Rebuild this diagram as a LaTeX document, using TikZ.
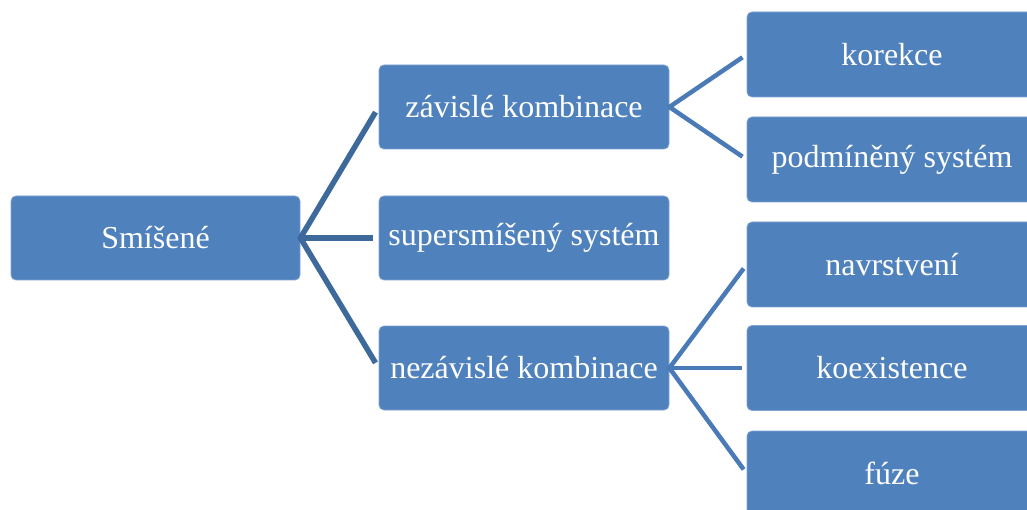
\documentclass[tikz,border=0pt]{standalone}
\usepackage{fontspec}
\setmainfont{Liberation Serif}
\definecolor{boxfill}{HTML}{4F81BD}
\definecolor{boxedge}{HTML}{7FA1CF}
\definecolor{lineA}{HTML}{3E6A9B}
\definecolor{lineB}{HTML}{4A7BB7}
\begin{document}
\begin{tikzpicture}[x=1pt,y=-1pt,
  box/.style={rectangle, rounded corners=5pt, fill=boxfill, draw=boxedge, line width=0.8pt,
    minimum width=290pt, minimum height=85pt, inner sep=0pt, text=white,
    font=\fontsize{32}{38}\selectfont},
  linkA/.style={draw=lineA, line width=5.5pt, shorten >=6pt, shorten <=-1pt},
  linkB/.style={draw=lineB, line width=4.5pt, shorten >=5pt, shorten <=-1pt}]
\useasboundingbox (0,0) rectangle (1027,510);
\clip (0,0) rectangle (1027,510);
\node[box, minimum width=289pt, minimum height=84pt] (s) at (155.5,238) {Smíšené};
\node[box, minimum height=84pt] (z) at (524,107) {závislé kombinace};
\node[box, minimum height=84pt] (sup) at (524,238) {supersmíšený systém};
\node[box, minimum height=84pt] (nez) at (524,368) {nezávislé kombinace};
\node[box] (k) at (892,54.5) {korekce};
\node[box] (p) at (892,159.5) {podmíněný systém};
\node[box] (n) at (892,264.5) {navrstvení};
\node[box] (ko) at (892,368) {koexistence};
\node[box] (f) at (892,473.5) {fúze};
\draw[linkA] (s.east) -- (z.west);
\draw[linkA] (s.east) -- (sup.west);
\draw[linkA] (s.east) -- (nez.west);
\draw[linkB] (z.east) -- (k.west);
\draw[linkB] (z.east) -- (p.west);
\draw[linkB] (nez.east) -- (n.west);
\draw[linkB] (nez.east) -- (ko.west);
\draw[linkB] (nez.east) -- (f.west);
\end{tikzpicture}
\end{document}
